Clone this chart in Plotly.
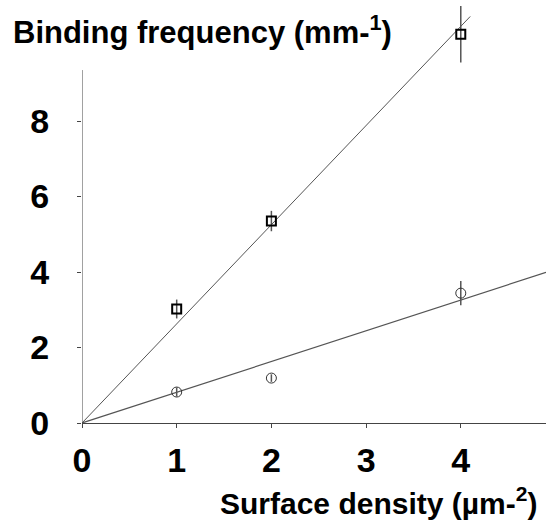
import plotly.graph_objects as go

# Data
density = [1, 2, 4]
square_freq = [3.02, 5.35, 10.3]
square_err = [0.25, 0.27, 0.75]
circle_freq = [0.82, 1.19, 3.44]
circle_err = [0.12, 0.10, 0.32]

# Fitted lines (through the origin)
square_fit_x = [0, 4.1]
square_fit_y = [0, 10.77]
circle_fit_x = [0, 4.9]
circle_fit_y = [0, 3.99]

x_ticks = [0, 1, 2, 3, 4]
y_ticks = [0, 2, 4, 6, 8]
y_axis_top = 9.35

FONT = "Liberation Sans, Arial, sans-serif"
LINE = "#444444"

fig = go.Figure()

fig.add_trace(go.Scatter(
    x=square_fit_x, y=square_fit_y, mode="lines",
    line=dict(color="#555555", width=1), hoverinfo="skip", showlegend=False))
fig.add_trace(go.Scatter(
    x=circle_fit_x, y=circle_fit_y, mode="lines",
    line=dict(color="#555555", width=1.2), hoverinfo="skip", showlegend=False))

fig.add_trace(go.Scatter(
    x=density, y=square_freq, mode="markers",
    marker=dict(symbol="square-open", size=9, color="black", line=dict(width=2, color="black")),
    error_y=dict(type="data", array=square_err, visible=True, width=0, thickness=1.5, color="#555555"),
    showlegend=False, cliponaxis=False))
fig.add_trace(go.Scatter(
    x=density, y=circle_freq, mode="markers",
    marker=dict(symbol="circle-open", size=10, color="#333333", line=dict(width=1, color="#333333")),
    error_y=dict(type="data", array=circle_err, visible=True, width=0, thickness=1.5, color="#555555"),
    showlegend=False, cliponaxis=False))

# y-axis line that stops below the top of the plot area
fig.add_shape(type="line", xref="x", yref="y", x0=0, x1=0, y0=0, y1=y_axis_top,
              line=dict(color=LINE, width=1))

fig.update_xaxes(
    range=[0, 4.9], tickvals=x_ticks, ticktext=[str(v) for v in x_ticks],
    showline=True, linecolor=LINE, linewidth=1, ticks="outside", ticklen=4,
    tickcolor=LINE, tickwidth=1, showgrid=False, zeroline=False,
    tickfont=dict(family=FONT, size=34, color="black", weight="bold"),
    ticklabelstandoff=3)
fig.update_yaxes(
    range=[0, 11.1], tickvals=y_ticks, ticktext=[str(v) for v in y_ticks],
    showline=False, ticks="outside", ticklen=4, tickcolor=LINE, tickwidth=1,
    showgrid=False, zeroline=False,
    tickfont=dict(family=FONT, size=34, color="black", weight="bold"),
    ticklabelstandoff=21)

fig.add_annotation(
    text="Binding frequency (mm-<sup>1</sup>)", xref="paper", yref="paper",
    x=-0.154, y=0.938, xanchor="left", yanchor="middle", showarrow=False,
    font=dict(family=FONT, size=31, color="black", weight="bold"))
fig.add_annotation(
    text="Surface density (µm-<sup>2</sup>)", xref="paper", yref="paper",
    x=0.985, y=-0.185, xanchor="right", yanchor="middle", showarrow=False,
    font=dict(family=FONT, size=30, color="black", weight="bold"))

fig.update_layout(
    width=546, height=524,
    margin=dict(l=82, r=0, t=4, b=101),
    paper_bgcolor="white", plot_bgcolor="white",
)

fig.write_html(
    "out.html",
    config={"displayModeBar": False},
    post_script="document.body.style.margin='0';document.body.style.padding='0';"
                "document.body.style.overflow='hidden';",
)
